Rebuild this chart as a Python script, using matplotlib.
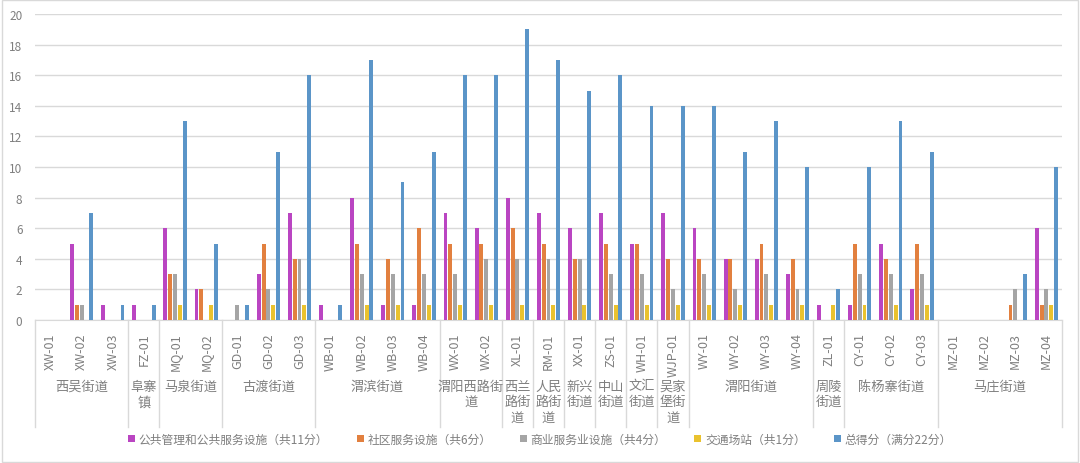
import numpy as np
import matplotlib.pyplot as plt
from matplotlib.patches import Rectangle

plt.rcParams['font.family'] = ['Noto Sans CJK SC', 'DejaVu Sans']

# 点位编号
sites = ['XW-01', 'XW-02', 'XW-03', 'FZ-01', 'MQ-01', 'MQ-02',
         'GD-01', 'GD-02', 'GD-03', 'WB-01', 'WB-02', 'WB-03', 'WB-04',
         'WX-01', 'WX-02', 'XL-01', 'RM-01', 'XX-01', 'ZS-01', 'WH-01', 'WJP-01',
         'WY-01', 'WY-02', 'WY-03', 'WY-04', 'ZL-01', 'CY-01', 'CY-02', 'CY-03',
         'MZ-01', 'MZ-02', 'MZ-03', 'MZ-04']

# 街道分组 (名称, 点位数)
groups = ['西吴街道', '阜寨\n镇', '马泉街道', '古渡街道', '渭滨街道', '渭阳西路街\n道',
          '西兰\n路街\n道', '人民\n路街\n道', '新兴\n街道', '中山\n街道', '文汇\n街道',
          '吴家\n堡街\n道', '渭阳街道', '周陵\n街道', '陈杨寨街道', '马庄街道']
group_sizes = [3, 1, 2, 3, 4, 2, 1, 1, 1, 1, 1, 1, 4, 1, 3, 4]

public = [0, 5, 1, 1, 6, 2, 0, 3, 7, 1, 8, 1, 1, 7, 6, 8, 7, 6, 7, 5, 7,
          6, 4, 4, 3, 1, 1, 5, 2, 0, 0, 0, 6]
community = [0, 1, 0, 0, 3, 2, 0, 5, 4, 0, 5, 4, 6, 5, 5, 6, 5, 4, 5, 5, 4,
             4, 4, 5, 4, 0, 5, 4, 5, 0, 0, 1, 1]
business = [0, 1, 0, 0, 3, 0, 1, 2, 4, 0, 3, 3, 3, 3, 4, 4, 4, 4, 3, 3, 2,
            3, 2, 3, 2, 0, 3, 3, 3, 0, 0, 2, 2]
traffic = [0, 0, 0, 0, 1, 1, 0, 1, 1, 0, 1, 1, 1, 1, 1, 1, 1, 1, 1, 1, 1,
           1, 1, 1, 1, 1, 1, 1, 1, 0, 0, 0, 1]
total = [0, 7, 1, 1, 13, 5, 1, 11, 16, 1, 17, 9, 11, 16, 16, 19, 17, 15, 16, 14, 14,
         14, 11, 13, 10, 2, 10, 13, 11, 0, 0, 3, 10]

series = [public, community, business, traffic, total]
names = ['公共管理和公共服务设施（共11分）', '社区服务设施（共6分）', '商业服务业设施（共4分）',
         '交通场站（共1分）', '总得分（满分22分）']
colors = ['#BA45C2', '#E2803F', '#A5A5A5', '#EAC22E', '#5B95C8']

txt = '#595959'
light = '#7F7F7F'
fig = plt.figure(figsize=(10.8, 4.64), dpi=100)
ax = fig.add_axes([35 / 1080, 1 - 321 / 464, 1027 / 1080, 306 / 464])

x = np.arange(len(sites))
w = 0.125
pitch = 0.155
for k, (vals, nm, c) in enumerate(zip(series, names, colors)):
    ax.bar(x + (k - 2) * pitch, vals, width=w, color=c, label=nm, zorder=3)

ax.set_xlim(-0.5, len(sites) - 0.5)
ax.set_ylim(0, 20)
ax.set_yticks(range(0, 21, 2))
ax.grid(axis='y', color='#D9D9D9', linewidth=1, zorder=0)
ax.tick_params(axis='y', length=0, labelsize=8.5, colors=light, pad=9)
ax.set_xticks(x)
ax.set_xticklabels(sites, rotation=90, fontsize=9, color=light, va='top')
ax.tick_params(axis='x', length=0, pad=9)
for s in ['top', 'right', 'left']:
    ax.spines[s].set_visible(False)
ax.spines['bottom'].set_color('#D9D9D9')

# 分组分隔线和街道名称
edges = np.concatenate([[0], np.cumsum(group_sizes)]) - 0.5
for e in edges:
    ax.plot([e, e], [0, -7.0], color='#D9D9D9', linewidth=1, clip_on=False)
for g, a, b in zip(groups, edges[:-1], edges[1:]):
    ax.text((a + b) / 2, -3.9, g, ha='center', va='top', fontsize=9.5,
            color=light, linespacing=1.25)

handles, labels = ax.get_legend_handles_labels()
leg = fig.legend(handles, labels, loc='center', bbox_to_anchor=(0.5, 1 - 440 / 464),
                 ncol=5, frameon=False, fontsize=8.5, handlelength=0.6, handleheight=0.6,
                 handletextpad=0.3, columnspacing=2.4)
for t in leg.get_texts():
    t.set_color(light)

fig.patches.append(Rectangle((0.002, 0.003), 0.996, 0.994, transform=fig.transFigure,
                             fill=False, edgecolor='#D9D9D9', linewidth=1))

fig.savefig('out.png', dpi=100)
